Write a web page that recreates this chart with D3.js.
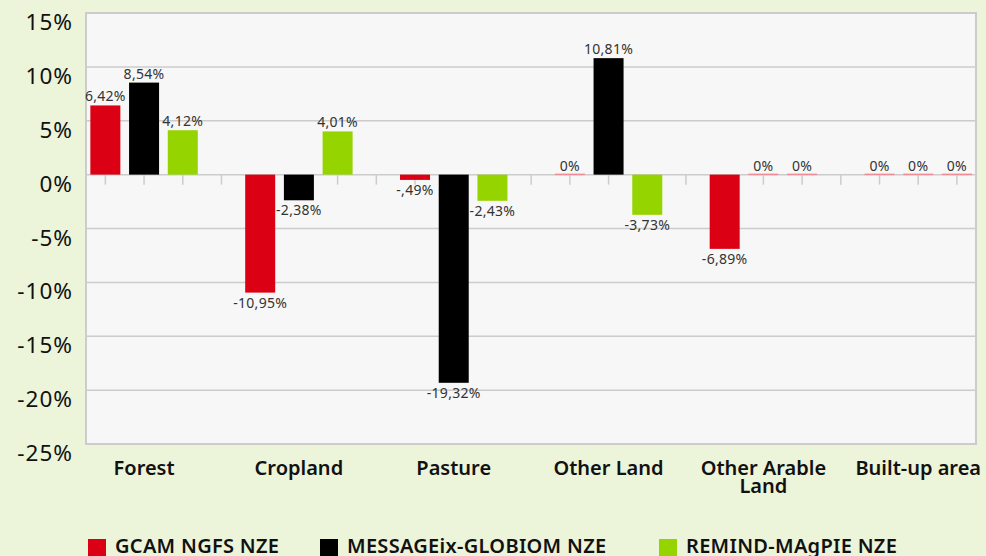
<!DOCTYPE html>
<html>
<head>
<meta charset="utf-8">
<script src="https://cdn.jsdelivr.net/npm/d3@7"></script>
<style>
  html, body { margin: 0; padding: 0; background: #ecf4da; }
  svg { display: block; font-family: "Noto Sans", Lato, sans-serif; }
</style>
</head>
<body>
<div class="chart"></div>
<script>
// categories and series
var categories = ["Forest", "Cropland", "Pasture", "Other Land", "Other Arable Land", "Built-up area"];
var seriesNames = ["GCAM NGFS NZE", "MESSAGEix-GLOBIOM NZE", "REMIND-MAgPIE NZE"];
var seriesColors = ["#dc0014", "#000000", "#96d400"];
var gcam = [6.42, -10.95, -0.49, 0, -6.89, 0];
var message = [8.54, -2.38, -19.32, 10.81, 0, 0];
var remind = [4.12, 4.01, -2.43, -3.73, 0, 0];
var yTicks = [15, 10, 5, 0, -5, -10, -15, -20, -25];

var W = 986, H = 556;
var plot = {left: 86, top: 13, right: 976, bottom: 444};

var svg = d3.select("div.chart").append("svg")
    .attr("width", W)
    .attr("height", H);

// 目盛り
var y = d3.scaleLinear().domain([-25, 15]).range([plot.bottom, plot.top]);
// the group slots run past the right edge of the frame in the original
var x0 = d3.scaleBand().domain(categories).range([plot.left, 1015]).padding(0);
var slot = d3.scaleBand().domain([0, 1, 2, 3]).range([0, x0.bandwidth()]).padding(0);
var barW = slot.bandwidth() * 0.775;

svg.append("defs").append("clipPath").attr("id", "clip")
    .append("rect")
    .attr("x", plot.left).attr("y", plot.top)
    .attr("width", plot.right - plot.left).attr("height", plot.bottom - plot.top);

// plot background
svg.append("rect")
    .attr("x", plot.left).attr("y", plot.top)
    .attr("width", plot.right - plot.left).attr("height", plot.bottom - plot.top)
    .attr("fill", "#f7f7f7");

// grid lines
svg.append("g").selectAll("line").data(yTicks).enter().append("line")
    .attr("x1", plot.left).attr("x2", plot.right)
    .attr("y1", function(d) { return y(d); })
    .attr("y2", function(d) { return y(d); })
    .attr("stroke", "#cccccc").attr("stroke-width", 1.5);

// y axis labels
svg.append("g").selectAll("text").data(yTicks).enter().append("text")
    .attr("x", 73)
    .attr("y", function(d) { return y(d) + 17; })
    .attr("text-anchor", "end")
    .attr("font-size", "22.5px")
    .attr("letter-spacing", "1px")
    .attr("fill", "#111")
    .text(function(d) { return d + "%"; });

// ticks under the zero line, one per slot
var tickData = [];
categories.forEach(function(c) { slot.domain().forEach(function(s) { tickData.push({c: c, s: s}); }); });
svg.append("g").attr("clip-path", "url(#clip)")
    .selectAll("line").data(tickData).enter().append("line")
    .attr("x1", function(d) { return x0(d.c) + slot(d.s) + slot.bandwidth() / 2; })
    .attr("x2", function(d) { return x0(d.c) + slot(d.s) + slot.bandwidth() / 2; })
    .attr("y1", y(0)).attr("y2", y(0) + 10)
    .attr("stroke", "#cccccc").attr("stroke-width", 1.5);

// bars
var rows = [];
[gcam, message, remind].forEach(function(vals, si) {
    vals.forEach(function(v, ci) { rows.push({c: categories[ci], s: si, v: v}); });
});

function fmt(v) {
    if (v === 0) return "0%";
    var s = d3.format(".2f")(v).replace(".", ",").replace("−", "-");
    s = s.replace(/^(-?)0,/, "$1,");
    return s + "%";
}
function cx(d) { return x0(d.c) + slot(d.s) + slot.bandwidth() / 2; }

var g = svg.append("g").attr("clip-path", "url(#clip)");
g.selectAll("rect.bar").data(rows).enter().append("rect")
    .attr("class", "bar")
    .attr("x", function(d) { return cx(d) - barW / 2; })
    .attr("width", barW)
    .attr("y", function(d) { return d.v === 0 ? y(0) - 1 : y(Math.max(0, d.v)); })
    .attr("height", function(d) { return d.v === 0 ? 1.5 : Math.abs(y(d.v) - y(0)); })
    .attr("fill", function(d) { return d.v === 0 ? "#f08c96" : seriesColors[d.s]; });

// frame
svg.append("rect")
    .attr("x", plot.left).attr("y", plot.top)
    .attr("width", plot.right - plot.left).attr("height", plot.bottom - plot.top)
    .attr("fill", "none").attr("stroke", "#cccccc").attr("stroke-width", 2);

// value labels (not clipped, the first one hangs over the frame)
svg.append("g").selectAll("text.val").data(rows).enter().append("text")
    .attr("class", "val")
    .attr("x", cx)
    .attr("y", function(d) { return d.v < 0 ? y(d.v) + 15 : y(d.v) - 4; })
    .attr("text-anchor", "middle")
    .attr("font-size", "14px")
    .attr("letter-spacing", "0.3px")
    .attr("fill", "#333")
    .text(function(d) { return fmt(d.v); });

// category labels
var catLabels = svg.append("g").selectAll("text").data(categories).enter().append("text")
    .attr("x", function(c) { return x0(c) + slot(1) + slot.bandwidth() / 2; })
    .attr("y", 475)
    .attr("text-anchor", "middle")
    .attr("font-size", "20px")
    .attr("font-weight", 600)
    .attr("fill", "#111");
catLabels.each(function(c) {
    var t = d3.select(this);
    var lines = c === "Other Arable Land" ? ["Other Arable", "Land"] : [c];
    lines.forEach(function(l, i) {
        t.append("tspan").attr("x", t.attr("x")).attr("dy", i === 0 ? 0 : 18).text(l);
    });
});

// legend
var legendX = [88, 320, 659];
var legend = svg.append("g").selectAll("g").data(seriesNames).enter().append("g")
    .attr("transform", function(d, i) { return "translate(" + legendX[i] + ",539)"; });
legend.append("rect")
    .attr("width", 18).attr("height", 18)
    .attr("fill", function(d, i) { return seriesColors[i]; });
legend.append("text")
    .attr("x", 27).attr("y", 14)
    .attr("font-size", "20px")
    .attr("font-weight", 600)
    .attr("letter-spacing", "0.3px")
    .attr("fill", "#111")
    .text(function(d) { return d; });
</script>
</body>
</html>
